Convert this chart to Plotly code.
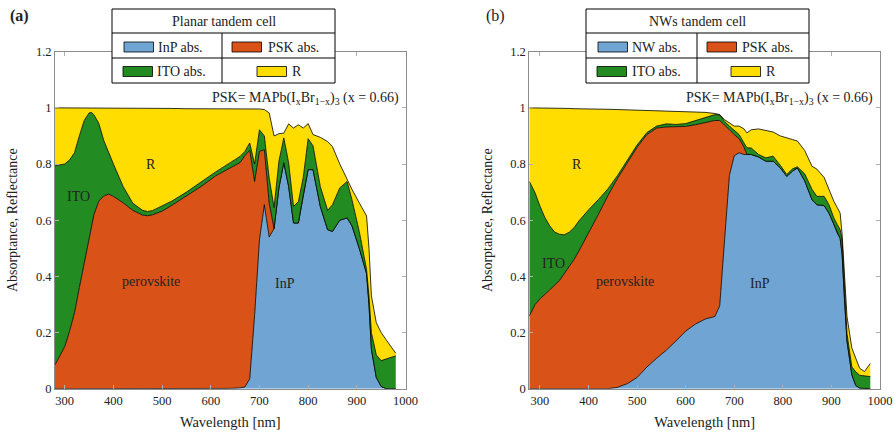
import plotly.graph_objects as go

W, H = 894, 434
FONT = "'Liberation Serif', 'Times New Roman', 'DejaVu Serif', serif"

# ---------------- Panel (a): planar tandem cell ----------------
# cumulative upper edges of each band (InP, +PSK, +ITO, +R)
wl_a = [280, 290, 300, 310, 320, 330, 340, 350, 355, 360, 370, 380, 390, 400,
        420, 440, 460, 470, 480, 500, 520, 550, 580, 610, 640, 660, 670, 680,
        690, 700, 710, 720, 730, 740, 750, 760, 770, 780, 790, 800, 810, 825,
        840, 850, 865, 880, 890, 905, 920, 925, 930, 940, 950, 960, 980]
a_inp = [0, 0, 0, 0, 0, 0, 0, 0, 0, 0, 0, 0, 0, 0,
         0, 0, 0, 0, 0, 0, 0, 0, 0, 0, 0.001, 0.003, 0.006, 0.035,
         0.26, 0.53, 0.655, 0.54, 0.57, 0.715, 0.805, 0.72, 0.59, 0.59, 0.69, 0.78, 0.78, 0.649,
         0.566, 0.56, 0.60, 0.608, 0.58, 0.50, 0.41, 0.30, 0.14, 0.04, 0.008, 0.0, 0.0]
a_psk = [0.085, 0.115, 0.15, 0.205, 0.27, 0.36, 0.45, 0.54, 0.58, 0.62, 0.668, 0.686, 0.693, 0.685,
         0.662, 0.635, 0.618, 0.616, 0.619, 0.632, 0.653, 0.685, 0.72, 0.758, 0.785, 0.805, 0.83, 0.849,
         0.738, 0.845, 0.851, 0.66, 0.57, 0.715, 0.805, 0.72, 0.59, 0.59, 0.69, 0.78, 0.78, 0.649,
         0.566, 0.56, 0.60, 0.608, 0.58, 0.50, 0.41, 0.30, 0.14, 0.04, 0.008, 0.0, 0.0]
a_ito = [0.794, 0.797, 0.80, 0.815, 0.84, 0.90, 0.955, 0.982, 0.984, 0.975, 0.945, 0.885, 0.84, 0.80,
         0.72, 0.66, 0.635, 0.631, 0.634, 0.65, 0.668, 0.70, 0.737, 0.772, 0.805, 0.827, 0.845, 0.875,
         0.80, 0.922, 0.90, 0.75, 0.645, 0.81, 0.893, 0.804, 0.649, 0.666, 0.753, 0.89, 0.865, 0.72,
         0.635, 0.655, 0.715, 0.738, 0.673, 0.56, 0.425, 0.33, 0.20, 0.12, 0.10, 0.105, 0.117]
a_r = [1.0, 1.0, 1.0, 1.0, 1.0, 1.0, 1.0, 0.999, 0.999, 0.999, 0.999, 0.999, 0.999, 0.999,
       0.999, 0.998, 0.998, 0.998, 0.998, 0.998, 0.998, 0.997, 0.997, 0.997, 0.997, 0.996, 0.996, 0.996,
       0.996, 0.996, 0.994, 0.982, 0.90, 0.908, 0.91, 0.943, 0.928, 0.94, 0.928, 0.944, 0.905, 0.895,
       0.88, 0.862, 0.80, 0.744, 0.71, 0.662, 0.615, 0.50, 0.33, 0.235, 0.20, 0.175, 0.126]

# ---------------- Panel (b): nanowire tandem cell ----------------
wl_b = [278, 290, 300, 310, 320, 330, 340, 350, 360, 370, 380, 390, 400, 420,
        440, 460, 480, 500, 520, 540, 560, 580, 600, 620, 640, 660, 670, 680,
        690, 700, 710, 720, 726, 735, 750, 765, 780, 795, 808, 820, 830, 845,
        860, 870, 885, 895, 905, 912, 918, 922, 926, 932, 942, 950, 958, 968, 980]
b_nw = [0, 0, 0, 0, 0, 0, 0, 0, 0, 0, 0, 0, 0, 0,
        0, 0.005, 0.018, 0.04, 0.077, 0.108, 0.137, 0.17, 0.205, 0.23, 0.248, 0.257, 0.295, 0.53,
        0.76, 0.83, 0.84, 0.834, 0.834, 0.834, 0.825, 0.81, 0.81, 0.786, 0.756, 0.775, 0.786, 0.74,
        0.673, 0.655, 0.652, 0.625, 0.585, 0.554, 0.535, 0.48, 0.34, 0.17, 0.05, 0.012, 0.002, 0.0, 0.0]
b_psk = [0.259, 0.30, 0.32, 0.335, 0.35, 0.368, 0.385, 0.41, 0.433, 0.46, 0.49, 0.522, 0.554, 0.62,
         0.688, 0.75, 0.805, 0.86, 0.905, 0.928, 0.932, 0.932, 0.934, 0.94, 0.948, 0.955, 0.955, 0.94,
         0.922, 0.905, 0.89, 0.86, 0.834, 0.834, 0.825, 0.81, 0.81, 0.786, 0.756, 0.775, 0.786, 0.74,
         0.673, 0.655, 0.652, 0.625, 0.585, 0.554, 0.535, 0.48, 0.34, 0.17, 0.05, 0.012, 0.002, 0.0, 0.0]
b_ito = [0.738, 0.697, 0.65, 0.61, 0.58, 0.558, 0.55, 0.548, 0.557, 0.573, 0.597, 0.618, 0.637, 0.673,
         0.712, 0.76, 0.812, 0.868, 0.912, 0.935, 0.943, 0.941, 0.944, 0.954, 0.965, 0.976, 0.975, 0.952,
         0.935, 0.92, 0.905, 0.875, 0.858, 0.857, 0.834, 0.822, 0.828, 0.795, 0.763, 0.783, 0.79, 0.765,
         0.71, 0.685, 0.685, 0.655, 0.608, 0.585, 0.566, 0.53, 0.40, 0.197, 0.078, 0.06, 0.048, 0.045, 0.043]
b_r = [1.0, 1.0, 0.999, 0.999, 0.999, 0.998, 0.998, 0.998, 0.998, 0.997, 0.997, 0.997, 0.997, 0.996,
       0.995, 0.994, 0.993, 0.992, 0.99, 0.988, 0.987, 0.986, 0.985, 0.985, 0.984, 0.98, 0.976, 0.958,
       0.945, 0.935, 0.935, 0.925, 0.911, 0.922, 0.925, 0.92, 0.914, 0.90, 0.892, 0.887, 0.882, 0.848,
       0.792, 0.782, 0.752, 0.71, 0.667, 0.645, 0.625, 0.55, 0.43, 0.257, 0.145, 0.105, 0.073, 0.061, 0.09]

x_ticks = [300, 400, 500, 600, 700, 800, 900, 1000]
y_ticks = [0, 0.2, 0.4, 0.6, 0.8, 1.0, 1.2]
y_tick_text = ["0", "0.2", "0.4", "0.6", "0.8", "1", "1.2"]

C_BLUE = "#70A5D3"
C_ORANGE = "#D95319"
C_GREEN = "#228B22"
C_YELLOW = "#FFDD00"
TXT = "#222222"

fig = go.Figure()


def add_panel(wl, layers, xa, ya):
    first = True
    for vals, col in layers:
        fig.add_trace(go.Scatter(
            x=wl, y=vals, mode="lines",
            line=dict(color="black", width=0.8),
            fill="tozeroy" if first else "tonexty",
            fillcolor=col, xaxis=xa, yaxis=ya,
            showlegend=False, hoverinfo="skip"))
        first = False


add_panel(wl_a, [(a_inp, C_BLUE), (a_psk, C_ORANGE), (a_ito, C_GREEN), (a_r, C_YELLOW)], "x", "y")
add_panel(wl_b, [(b_nw, C_BLUE), (b_psk, C_ORANGE), (b_ito, C_GREEN), (b_r, C_YELLOW)], "x2", "y2")


def px(x):
    return x / W


def py(y):
    return 1 - y / H


def f(size):
    return dict(family=FONT, size=size, color=TXT)


Y_TOP, Y_BOT = 51.7, 388.7
axis_common = dict(
    showline=True, linecolor="#8c8c8c", linewidth=1, mirror="ticks",
    ticks="inside", ticklen=4, tickcolor="#b0b0b0", tickwidth=1,
    showgrid=False, zeroline=False, automargin=False,
    tickfont=f(12.5),
)
xtitle = dict(text="Wavelength [nm]", standoff=10, font=f(14.5))
ytitle = dict(text="Absorptance, Reflectance", standoff=14, font=f(14))
fig.update_layout(
    width=W, height=H, margin=dict(l=0, r=0, t=0, b=0, autoexpand=False),
    plot_bgcolor="white", paper_bgcolor="white",
    font=f(13),
    xaxis=dict(domain=[px(55), px(405.5)], range=[280, 1000], tickvals=x_ticks,
               title=xtitle, **axis_common),
    yaxis=dict(domain=[py(Y_BOT), py(Y_TOP)], range=[0, 1.2], tickvals=y_ticks, ticktext=y_tick_text,
               title=ytitle, **axis_common),
    xaxis2=dict(domain=[px(529.3), px(880)], range=[278, 1000], tickvals=x_ticks,
                title=xtitle, anchor="y2", **axis_common),
    yaxis2=dict(domain=[py(Y_BOT), py(Y_TOP)], range=[0, 1.2], tickvals=y_ticks, ticktext=y_tick_text,
                title=ytitle, anchor="x2", **axis_common),
)

shapes = []
annotations = []


def legend_table(x0, x1, xm, title, entries):
    y0, y1, y2, y3 = 9, 33, 58, 83
    shapes.append(dict(type="rect", xref="paper", yref="paper", x0=px(x0), x1=px(x1), y0=py(y3), y1=py(y0),
                       fillcolor="white", line=dict(color="black", width=1), layer="above"))
    for yy in (y1, y2):
        shapes.append(dict(type="line", xref="paper", yref="paper", x0=px(x0), x1=px(x1), y0=py(yy), y1=py(yy),
                           line=dict(color="black", width=1), layer="above"))
    shapes.append(dict(type="line", xref="paper", yref="paper", x0=px(xm), x1=px(xm), y0=py(y1), y1=py(y3),
                       line=dict(color="black", width=1), layer="above"))
    annotations.append(dict(text=title, xref="paper", yref="paper", x=px((x0 + x1) / 2), y=py(21.5),
                            showarrow=False, xanchor="center", yanchor="middle", font=f(14)))
    for label, col, sx, tx, row in entries:
        sy0, sy1 = (42, 52) if row == 0 else (66.5, 76.5)
        shapes.append(dict(type="rect", xref="paper", yref="paper", x0=px(sx), x1=px(sx + 29.5),
                           y0=py(sy1), y1=py(sy0), fillcolor=col, line=dict(color="black", width=0.8),
                           layer="above"))
        annotations.append(dict(text=label, xref="paper", yref="paper", x=px(tx), y=py((sy0 + sy1) / 2),
                                showarrow=False, xanchor="left", yanchor="middle", font=f(14)))


legend_table(112, 335, 222, "Planar tandem cell", [
    ("InP abs.", C_BLUE, 124, 156, 0), ("PSK abs.", C_ORANGE, 232, 266, 0),
    ("ITO abs.", C_GREEN, 123, 155, 1), ("R", C_YELLOW, 257, 290, 1)])
legend_table(586, 809, 697, "NWs tandem cell", [
    ("NW abs.", C_BLUE, 598, 630, 0), ("PSK abs.", C_ORANGE, 707, 740, 0),
    ("ITO abs.", C_GREEN, 597, 630, 1), ("R", C_YELLOW, 731, 764, 1)])

psk_text = "PSK= MAPb(I<sub>x</sub>Br<sub>1\u2212x</sub>)<sub>3</sub> (x = 0.66)"
annotations.append(dict(text=psk_text, xref="paper", yref="paper", x=px(401), y=py(99),
                        showarrow=False, xanchor="right", yanchor="middle", font=f(14)))
annotations.append(dict(text=psk_text, xref="paper", yref="paper", x=px(875), y=py(99),
                        showarrow=False, xanchor="right", yanchor="middle", font=f(14)))

annotations.append(dict(text="<b>(a)</b>", xref="paper", yref="paper", x=px(19), y=py(16),
                        showarrow=False, xanchor="center", yanchor="middle", font=f(16)))
annotations.append(dict(text="(b)", xref="paper", yref="paper", x=px(495), y=py(16),
                        showarrow=False, xanchor="center", yanchor="middle", font=f(16)))

band_labels = [
    ("R", 477, 0.80, "x", "y"), ("ITO", 329, 0.684, "x", "y"),
    ("perovskite", 477, 0.38, "x", "y"), ("InP", 753, 0.376, "x", "y"),
    ("R", 376, 0.80, "x2", "y2"), ("ITO", 327, 0.445, "x2", "y2"),
    ("perovskite", 475, 0.38, "x2", "y2"), ("InP", 752, 0.376, "x2", "y2"),
]
for t, xv, yv, xr, yr in band_labels:
    annotations.append(dict(text=t, x=xv, y=yv, xref=xr, yref=yr, showarrow=False,
                            xanchor="center", yanchor="middle", font=f(14)))

fig.update_layout(shapes=shapes, annotations=annotations)
fig.write_html("out.html")
